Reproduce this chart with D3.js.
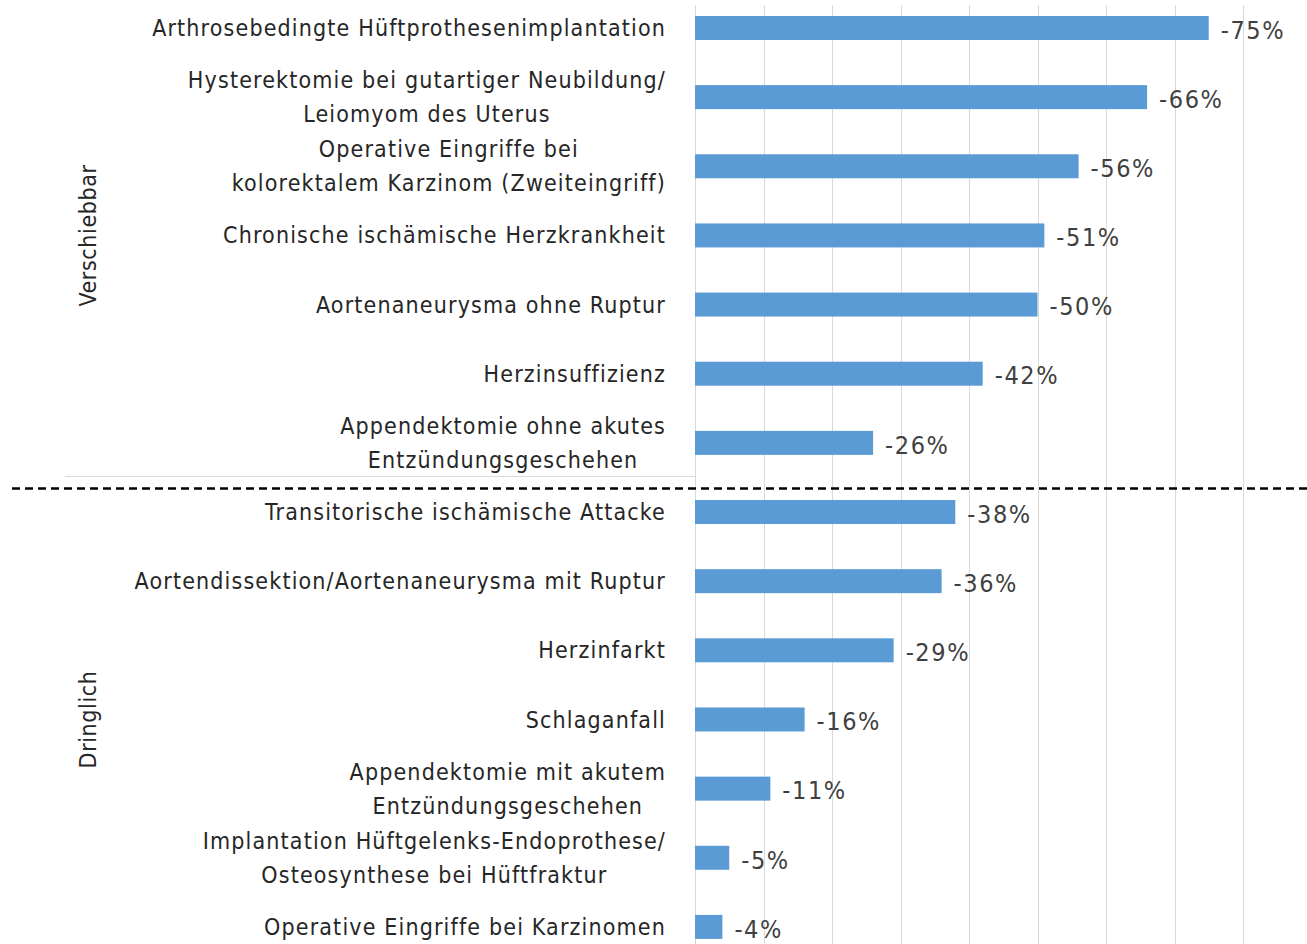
<!DOCTYPE html>
<html lang="de">
<head>
<meta charset="UTF-8">
<title>Rückgang der Fallzahlen</title>
<script src="https://d3js.org/d3.v7.min.js"></script>
<style>
  html, body { margin: 0; padding: 0; background: #fff; }
  svg { display: block; }
  text { font-family: "DejaVu Sans Condensed", "Liberation Sans Narrow", sans-serif; fill: #262626; }
</style>
</head>
<body>
<svg width="1307" height="944"></svg>
<script>
// Kategorien (Zeilenumbruch mit \n)
const categories = [
  "Arthrosebedingte Hüftprothesenimplantation",
  "Hysterektomie bei gutartiger Neubildung/\nLeiomyom des Uterus",
  "Operative Eingriffe bei\nkolorektalem Karzinom (Zweiteingriff)",
  "Chronische ischämische Herzkrankheit",
  "Aortenaneurysma ohne Ruptur",
  "Herzinsuffizienz",
  "Appendektomie ohne akutes\nEntzündungsgeschehen",
  "Transitorische ischämische Attacke",
  "Aortendissektion/Aortenaneurysma mit Ruptur",
  "Herzinfarkt",
  "Schlaganfall",
  "Appendektomie mit akutem\nEntzündungsgeschehen",
  "Implantation Hüftgelenks-Endoprothese/\nOsteosynthese bei Hüftfraktur",
  "Operative Eingriffe bei Karzinomen"
];
// Veränderung in Prozent
const values = [-75, -66, -56, -51, -50, -42, -26, -38, -36, -29, -16, -11, -5, -4];
// Gruppen und Anzahl Kategorien je Gruppe
const groups = ["Verschiebbar", "Dringlich"];
const groupSizes = [7, 7];
const gridTicks = [0, -10, -20, -30, -40, -50, -60, -70, -80, -90];

const svg = d3.select("svg");

const x = d3.scaleLinear().domain([0, -90]).range([695, 1311.5]);
const y = d3.scaleBand()
  .domain(categories)
  .range([-6.6, 961.5])
  .paddingInner(0.653)
  .paddingOuter(0.3265);
const step = y.step();
const rowTop = i => y(categories[i]) - y.paddingOuter() * step;

// Gitterlinien
svg.append("g")
  .selectAll("line")
  .data(gridTicks)
  .join("line")
  .attr("x1", d => Math.round(x(d)) + 0.5)
  .attr("x2", d => Math.round(x(d)) + 0.5)
  .attr("y1", 5)
  .attr("y2", 944)
  .attr("stroke", "#d9d9d9")
  .attr("stroke-width", 1);

// Balken
svg.append("g")
  .selectAll("rect")
  .data(values)
  .join("rect")
  .attr("x", x(0))
  .attr("y", (d, i) => y(categories[i]))
  .attr("width", d => x(d) - x(0))
  .attr("height", y.bandwidth())
  .attr("fill", "#5b9bd5");

// Wertbeschriftungen
svg.append("g")
  .selectAll("text")
  .data(values)
  .join("text")
  .attr("x", d => x(d) + 12)
  .attr("y", (d, i) => y(categories[i]) + y.bandwidth() / 2 + 2)
  .attr("dy", "0.35em")
  .style("font-size", "25px")
  .style("letter-spacing", "1.6px")
  .style("fill", "#404040")
  .text(d => d + "%");

// Kategoriebeschriftungen (mehrzeilig zentriert, Block rechtsbündig)
const labelRight = 666;
const lineH = 34;
const lab = svg.append("g");
categories.forEach((c, i) => {
  const lines = c.split("\n");
  const cy = y(c) + y.bandwidth() / 2;
  const t = lab.append("text")
    .style("font-size", "23px")
    .style("letter-spacing", "1.15px")
    .attr("text-anchor", "middle");
  lines.forEach((ln, j) => {
    t.append("tspan")
      .attr("y", cy + (j - (lines.length - 1) / 2) * lineH)
      .attr("dy", "0.35em")
      .text(ln);
  });
  const w = d3.max(t.selectAll("tspan").nodes(), n => n.getComputedTextLength());
  t.selectAll("tspan").attr("x", labelRight - w / 2);
});

// Gruppentrennung
let start = 0;
groups.forEach((g, k) => {
  const top = rowTop(start);
  const bottom = rowTop(start + groupSizes[k] - 1) + step;
  svg.append("text")
    .attr("transform", `translate(96,${(top + bottom) / 2}) rotate(-90)`)
    .attr("text-anchor", "middle")
    .style("font-size", "23px")
    .style("letter-spacing", "0.6px")
    .text(g);
  if (k < groups.length - 1) {
    svg.append("line")
      .attr("x1", 65).attr("x2", x(0))
      .attr("y1", Math.round(bottom) - 0.5).attr("y2", Math.round(bottom) - 0.5)
      .attr("stroke", "#d9d9d9");
    svg.append("line")
      .attr("x1", 12).attr("x2", 1307)
      .attr("y1", bottom + 11).attr("y2", bottom + 11)
      .attr("stroke", "#000")
      .attr("stroke-width", 2.5)
      .attr("stroke-dasharray", "8,5");
  }
  start += groupSizes[k];
});
</script>
</body>
</html>
